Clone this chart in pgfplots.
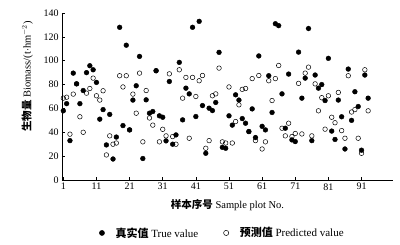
\documentclass[border=0pt]{standalone}
\usepackage{fontspec}
\setmainfont{Liberation Serif}
\newfontfamily\cjk{Noto Sans CJK SC}
\usepackage{pgfplots}
\usepackage{pgfplotstable}
\pgfplotsset{compat=1.18}
\pgfplotstableread{
x true pred
1 58 68.6
2 64 69.4
3 33 38.4
4 89.6 72
5 80.6 80.6
6 64 53
7 75 40
8 90 72.8
9 95.8 76.7
10 92.4 85.4
11 81.8 70.6
12 51 67
13 59 74.8
14 29.4 21
15 55 37
16 17.6 30
17 36 31
18 128 87.4
19 45.6 78
20 113 87.4
21 42 42
22 67 72
23 79 56
24 103.6 89.6
25 18 32
26 67.2 75
27 56 52
28 57.4 46
29 91.6 91.6
30 53.8 32
31 52.6 42.5
32 32.8 37
33 82.6 89
34 30 36.4
35 37.8 30
36 98.6 92.4
37 50.4 68.6
38 77 86
39 72.2 35
40 128 86
41 53.2 70
42 133 83.2
43 62.4 87.6
44 22.4 26.6
45 60.2 33
46 58.2 70.6
47 65 72.2
48 107 93.8
49 27.4 32
50 26.6 31
51 53.8 78
52 46 31
53 71.4 49
54 67 63
55 51.5 76
56 47.6 76.7
57 40.6 40.6
58 59.6 85
59 35.6 33
60 104 87.6
61 45 26
62 42 32
63 87.4 83.2
64 56.6 66.6
65 131 85
66 129.4 96
67 72.2 43.4
68 43.4 37
69 88.8 47.6
70 33.6 36.4
71 32.2 39
72 107.2 81
73 68.6 38.6
74 85.4 89.6
75 127 94.6
76 33 37
77 88 80.6
78 77 58
79 80 69
80 66.6 42.6
81 102 70.6
82 41 52.6
83 34 48
84 67 73.4
85 53 41.4
86 26 35
87 93 87.4
88 50 57
89 74 59
90 61.6 35
91 25 22.4
92 88 92.4
93 68.6 58
}\biomass
\begin{document}
\fontsize{9.5}{11}\selectfont
\begin{tikzpicture}
\begin{axis}[
  scale only axis, width=331pt, height=167pt,
  xmin=0.6, xmax=100.5, ymin=0, ymax=140,
  axis lines=left, axis line style={-, line width=0.6pt},
  xtick={1,11,...,91}, ytick={0,20,...,140},
  tick align=inside, major tick length=3pt,
  tick style={black, line width=0.5pt},
  /pgf/number format/assume math mode=true,
  tick label style={font=\fontsize{10}{12}\selectfont},
  xlabel={{\cjk\bfseries 样本序号} Sample plot No.},
  ylabel={{\cjk\bfseries 生物量} Biomass/(t$\cdot$hm$^{-2}$)},
  label style={font=\fontsize{10.5}{12}\selectfont},
  xlabel style={at={(axis description cs:0.5,-0.15)}, anchor=center},
  ylabel style={at={(axis description cs:-0.105,0.62)}, anchor=center},
  legend style={at={(axis description cs:0.48,-0.317)}, anchor=center, draw=none,
    font=\fontsize{11}{13}\selectfont, legend columns=2,
    /tikz/every even column/.append style={column sep=20pt}},
  legend cell align=left,
  legend image code/.code={\draw[#1] (0.05cm,0cm) circle (2.6pt); \path (-0.15cm,0) (0.45cm,0);},
]
\addplot[only marks, mark=*, mark size=2.4pt, black, fill=black] table[x=x, y=true] {\biomass};
\addlegendentry{{\cjk\bfseries 真实值} True value}
\addplot[only marks, mark=o, mark size=2.3pt, black, fill=white, line width=0.5pt, mark options={fill=white, line width=0.5pt}] table[x=x, y=pred] {\biomass};
\addlegendentry{{\cjk\bfseries 预测值} Predicted value}
\end{axis}
\path (current axis.south west) ++(-62pt,-65pt) rectangle ++(400pt,245pt);
\end{tikzpicture}
\end{document}
